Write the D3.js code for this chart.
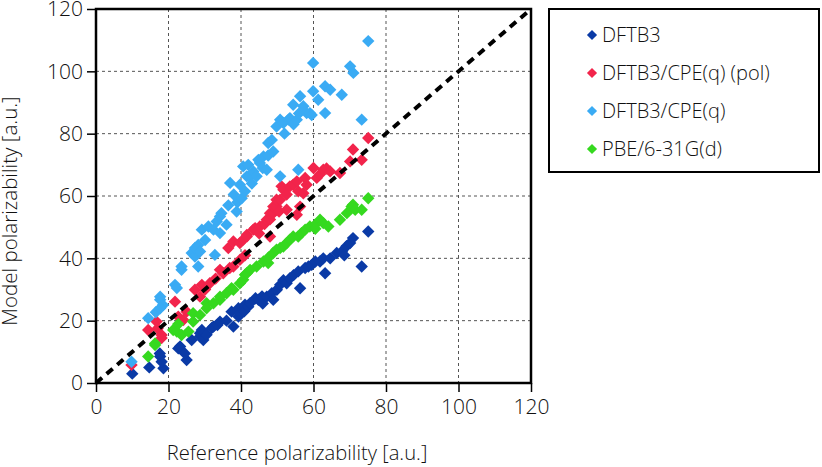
<!DOCTYPE html>
<html><head><meta charset="utf-8">
<script src="https://cdn.jsdelivr.net/npm/d3@7"></script>
<style>
html,body{margin:0;padding:0;background:#fff;}
svg text{font-family:"Open Sans","Helvetica Neue",Lato,sans-serif;font-weight:300;fill:#111;}
</style></head>
<body><svg id="chart" width="822" height="467"></svg>
<script>
const seriesNames = ["DFTB3", "DFTB3/CPE(q) (pol)", "DFTB3/CPE(q)", "PBE/6-31G(d)"];
const seriesColors = ["#0a3aa6", "#f2244b", "#3aabf4", "#35d91f"];
const xTicks = [0, 20, 40, 60, 80, 100, 120];
const yTicks = [0, 20, 40, 60, 80, 100, 120];
const xTitle = "Reference polarizability [a.u.]";
const yTitle = "Model polarizability [a.u.]";

const dftb3 = [[10,3],[14.7,5],[17.7,8.5],[18.6,4.7],[18.1,6.8],[17.6,9.5],[22.7,11.1],[23.2,11.7],[25,7.4],[24.5,9.5],[26.4,13.8],[28.7,14.9],[28.7,16],[29.6,13.8],[29.2,17],[30.5,15.5],[31.9,17.6],[32.4,18.1],[33.5,18.6],[34.2,19.7],[36,20],[37.9,18.1],[37.4,22.9],[39.3,21.3],[39.3,24],[39.7,22.4],[40.6,23.5],[40.9,23],[41.1,25.1],[42,24.5],[42.5,25.6],[44,27.2],[44.8,26.7],[45.8,27.8],[46,25.5],[47.1,27.7],[48.5,28.8],[48.9,26.7],[49.9,29.9],[50.8,31.5],[51.7,33],[52.6,32],[53.5,33.6],[54.5,34.6],[56.3,30.4],[55.8,35.8],[57.7,36.9],[58.6,37.4],[59.5,37.9],[60.5,39],[61.8,39],[62.7,40],[63.2,35.2],[64.6,40],[66.4,41.7],[67.8,42.2],[68.5,41],[69.1,43.9],[70.1,44.9],[70.9,46.5],[73.3,37.4],[75.1,48.6]];
const cpePol = [[9.8,5.8],[14.4,17],[16.7,19.7],[17,17.5],[18.1,15.4],[18.1,14.4],[21.8,26.1],[22.7,21.3],[24.1,20.2],[25,22.9],[27.3,29.9],[28.7,27.7],[29.2,31.5],[30.1,30],[31.4,32],[33,33.5],[34.2,36.3],[35.1,35.2],[36.9,36.9],[37.9,37.4],[36.5,43.3],[37.9,45.4],[39.7,39.5],[39.7,44.9],[41.1,41],[40.6,46],[41.6,47.5],[41.6,47],[43.4,49.2],[43.9,49.7],[45,48],[45.2,50.2],[46.5,51],[47.1,52.4],[48,47],[48,52.5],[48,54.5],[48.9,54.5],[48.9,56.6],[49.8,55.6],[49.8,56.6],[49.8,58.8],[50.5,55],[50.8,58.8],[51.2,63.1],[51.7,62],[52.6,55.6],[52.6,60.5],[53.5,63.1],[54.4,63.6],[55.4,64.7],[55.4,54],[55.8,61.5],[56.3,56.6],[57.2,60.9],[57.7,65.8],[58.1,63.6],[60,69],[60.9,65.8],[61.8,67],[62.7,68.4],[63.6,68.8],[64.6,67.9],[67.3,67.4],[70.1,71.1],[70.9,74.9],[73.3,71.6],[75.1,78.6]];
const cpe = [[9.8,6.8],[14.4,20.8],[16.5,22.7],[17.7,26.7],[17.7,27.7],[18.5,25],[17.7,24],[21.8,31.5],[22.3,30.5],[23.6,36.3],[23.6,37.4],[26.4,41.7],[27.3,40.6],[27.3,43.3],[28.2,37.4],[28.2,44.3],[28.7,42.2],[29.2,49.2],[30.1,45.9],[31,50.2],[32.4,49.2],[32.8,41.1],[33.3,51.8],[34.2,48.1],[34.2,53.4],[34.6,54.5],[36,50.8],[36.5,57],[37,64.2],[38,60.5],[38.8,55],[39,58],[39.7,63.6],[40.2,59.3],[41.1,61.5],[40.6,69.5],[41.6,66.3],[42,70],[42.5,66.3],[43,64],[43.4,67.9],[44.3,66.3],[44.8,71.6],[45.2,70.6],[46,69],[46.2,72.7],[47.1,68.4],[47.5,73],[47.5,77],[48.5,78],[48.9,74.3],[49.8,82.3],[50.8,66.3],[50.8,84.5],[51.7,83.4],[52,80],[53.1,84.5],[53.5,85],[54.4,89.3],[54.5,83],[55.4,84.5],[55.8,68.4],[56,86.5],[56.3,92],[57.2,88.8],[58.1,86.6],[59,86.6],[59.5,86],[59.9,93.6],[59.9,102.7],[61.3,90.9],[63.2,95.2],[63.2,86.6],[64.6,94.1],[67.8,92.5],[70.1,101.6],[71,99.5],[73.3,84.5],[75.1,109.7]];
const pbe = [[14.4,8.5],[16.3,12.2],[16.3,12.7],[21.3,17],[22.3,16.5],[22.7,18.9],[23.6,15.4],[25.5,16.5],[26.8,19.7],[26.8,22.4],[28.7,21.8],[30.5,24],[30.5,25.6],[32.4,25.6],[34.2,26.7],[34.2,27.7],[36,28.8],[37.4,30.4],[37.9,29.9],[39.7,32],[40.6,33.1],[41.1,34.7],[41.6,35.2],[42.5,36.3],[44.3,37.4],[46.2,39],[47.5,38.5],[47.6,40.3],[48.9,41.7],[49.8,42.8],[50.8,43.3],[51.7,43.8],[52.6,44.9],[53.5,46],[54.4,47],[55.8,47],[56.7,48.1],[57.7,49.2],[59,50.2],[60.4,50.7],[60.5,49.5],[61.8,52.4],[62.7,51.3],[64.1,50.2],[67.3,52.4],[69.2,54.5],[70.5,56.6],[70.9,57.2],[71.5,55.6],[73.3,55.6],[75.1,59.3]];
const allSeries = [dftb3, cpePol, cpe, pbe];

const svg = d3.select("#chart");
const L = 96, R = 531, T = 9, B = 383;
const x = d3.scaleLinear().domain([0,120]).range([L,R]);
const y = d3.scaleLinear().domain([0,120]).range([B,T]);
const FONT = "'Open Sans','Helvetica Neue',Lato,sans-serif";

// grid
const grid = svg.append("g");
grid.selectAll("line.vx").data(xTicks.slice(1,-1)).enter().append("line")
  .attr("x1", d=>x(d)).attr("x2", d=>x(d)).attr("y1", T).attr("y2", B)
  .attr("stroke", "#555").attr("stroke-width", 1).attr("stroke-dasharray", "3,3");
grid.selectAll("line.hy").data(yTicks.slice(1,-1)).enter().append("line")
  .attr("y1", d=>y(d)).attr("y2", d=>y(d)).attr("x1", L).attr("x2", R)
  .attr("stroke", "#555").attr("stroke-width", 1).attr("stroke-dasharray", "3,3");

// points
const sym = d3.symbol().type(d3.symbolDiamond2).size(98);
allSeries.forEach((s, i) => {
  svg.append("g").selectAll("path").data(s).enter().append("path")
    .attr("d", sym)
    .attr("transform", d => `translate(${x(d[0])},${y(d[1])})`)
    .attr("fill", seriesColors[i]);
});

// y = x line
svg.append("line").attr("x1", x(0)).attr("y1", y(0)).attr("x2", x(119)).attr("y2", y(119))
  .attr("stroke", "#000").attr("stroke-width", 4).attr("stroke-dasharray", "8,6");

// axes
const xAxis = d3.axisBottom(x).tickValues(xTicks).tickSize(9).tickPadding(7).tickSizeOuter(0);
const yAxis = d3.axisLeft(y).tickValues(yTicks).tickSize(9).tickPadding(4).tickSizeOuter(0);
const gx = svg.append("g").attr("transform", `translate(0,${B})`).call(xAxis);
const gy = svg.append("g").attr("transform", `translate(${L},0)`).call(yAxis);
[gx, gy].forEach(g => {
  g.select(".domain").remove();
  g.selectAll(".tick line").attr("stroke", "#000").attr("stroke-width", 1.5);
  g.selectAll(".tick text").attr("font-size", 21).style("font-family", FONT).style("font-weight", 300).attr("fill", "#111");
});

// frame
svg.append("rect").attr("x", L).attr("y", T).attr("width", R-L).attr("height", B-T)
  .attr("fill", "none").attr("stroke", "#000").attr("stroke-width", 2.5);

// titles
svg.append("text").attr("x", 297).attr("y", 460).attr("text-anchor", "middle")
  .attr("font-size", 20.2).text(xTitle);
svg.append("text").attr("transform", "translate(17,211) rotate(-90)").attr("text-anchor", "middle")
  .attr("font-size", 20.5).text(yTitle);

// legend
svg.append("rect").attr("x", 549).attr("y", 9).attr("width", 270).attr("height", 163)
  .attr("fill", "#fff").attr("stroke", "#000").attr("stroke-width", 2);
const lsym = d3.symbol().type(d3.symbolDiamond2).size(66);
const lg = svg.append("g").selectAll("g").data(seriesNames).enter().append("g")
  .attr("transform", (d,i) => `translate(592,${35 + i*38})`);
lg.append("path").attr("d", lsym).attr("fill", (d,i) => seriesColors[i]);
lg.append("text").attr("x", 10).attr("dy", "0.35em").attr("font-size", 20).text(d => d);
</script></body></html>
